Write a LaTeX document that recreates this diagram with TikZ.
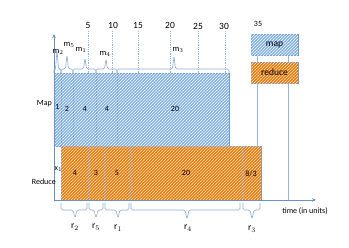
\documentclass[tikz,border=0pt]{standalone}
\usepackage{fontspec}
\setmainfont{Carlito}
\usetikzlibrary{patterns,arrows.meta}
\definecolor{mapfill}{RGB}{128,176,232}
\definecolor{mapline}{RGB}{112,152,200}
\definecolor{redfill}{RGB}{236,120,0}
\definecolor{redline}{RGB}{130,150,175}
\definecolor{axisc}{RGB}{105,145,198}
\definecolor{tickc}{RGB}{150,182,222}
\definecolor{brc}{RGB}{140,172,212}
\pgfdeclarepatternformonly{thickne}{\pgfqpoint{-1pt}{-1pt}}{\pgfqpoint{4pt}{4pt}}{\pgfqpoint{3pt}{3pt}}{%
  \pgfsetlinewidth{0.7pt}%
  \pgfpathmoveto{\pgfqpoint{-0.5pt}{-0.5pt}}\pgfpathlineto{\pgfqpoint{3.5pt}{3.5pt}}\pgfusepath{stroke}}
\tikzset{
  mapblk/.style={fill=mapfill, draw=mapline, line width=0.7pt, postaction={pattern=thickne, pattern color=white!90!mapfill}},
  redblk/.style={fill=redfill, draw=redline, line width=0.7pt, postaction={pattern=thickne, pattern color=white!75!redfill}},
  brace/.style={draw=brc, line width=0.6pt, rounded corners=1.5pt},
  tickline/.style={draw=tickc, densely dotted, line width=0.8pt},
  guide/.style={draw=tickc, line width=0.6pt},
  num/.style={font=\fontsize{8}{9}\selectfont, inner sep=0pt},
  tlab/.style={font=\fontsize{9.5}{10}\selectfont, inner sep=0pt},
  mlab/.style={font=\fontsize{8.5}{9}\selectfont, inner sep=0pt},
  leg/.style={font=\fontsize{9.5}{10}\selectfont, inner sep=0pt},
}
\newcommand\topbr[4]{\path[brace] (#1,73) -- (#1,69) -- ({#3-1.5},69) -- (#3,#4) -- ({#3+1.5},69) -- (#2,69) -- (#2,73);}
\newcommand\botbr[4]{\path[brace] (#1,203) -- (#1,210) -- ({#3-2},210) -- (#3,#4) -- ({#3+2},210) -- (#2,210) -- (#2,203);}
\begin{document}
\begin{tikzpicture}[x=1pt,y=-1pt]
\useasboundingbox (0,0) rectangle (349,247);
% tick guide lines
\foreach \x in {88,112,138,170,198,225} \path[tickline] (\x,31) -- (\x,73);
% long guides
\path[guide] (257,55) -- (257,146);
\path[guide] (288,55) -- (288,200);
% map blocks
\path[mapblk] (54,73) rectangle (61,146);
\path[mapblk] (61,73) rectangle (73,146);
\path[mapblk] (73,73) rectangle (96,146);
\path[mapblk] (96,73) rectangle (117,146);
\path[mapblk] (117,73) rectangle (229,146);
% reduce blocks
\path[redblk] (61,146) rectangle (88,200);
\path[redblk] (88,146) rectangle (104,200);
\path[redblk] (104,146) rectangle (130,200);
\path[redblk] (130,146) rectangle (242,200);
\path[redblk] (242,146) rectangle (261,200);
% axes
\coordinate (o) at (54,200);
\coordinate (ytop) at (54,34);
\coordinate (xend) at (316,200);
\draw[axisc, line width=0.8pt, -{Stealth[length=4pt,width=3.5pt]}] (o) -- (ytop);
\draw[axisc, line width=0.8pt, -{Stealth[length=4pt,width=3.5pt]}] (o) -- (xend);
% block texts
\node[num] (t1) at (57.5,107) {1};
\node[num] (t2) at (67,109) {2};
\node[num] (t3) at (85,109) {4};
\node[num] (t4) at (107,109) {4};
\node[num] (t5) at (175,109) {20};
\node[num] (u1) at (75,173) {4};
\node[num] (u2) at (96,173) {3};
\node[num] (u3) at (117,173) {5};
\node[num] (u4) at (186,173) {20};
\node[num] (u5) at (251,174) {8/3};
\node[num] (x1) at (58.5,169) {x$_1$};
\node[num,anchor=east] (maplab) at (52,104) {Map};
\node[num,anchor=east] (redlab) at (56,182) {Reduce};
% tick labels
\node[tlab] (k5) at (88,25) {5};
\node[tlab] (k10) at (113,25) {10};
\node[tlab] (k15) at (138,25) {15};
\node[tlab] (k20) at (170,25) {20};
\node[tlab] (k25) at (198,26) {25};
\node[tlab] (k30) at (224,26) {30};
\node[num] (k35) at (258,24) {35};
% top braces
\topbr{54}{61}{57}{50}
\topbr{61}{73}{67}{55}
\topbr{73}{96}{85}{58}
\topbr{96}{117}{106}{59}
\topbr{117}{229}{174}{56}
\node[mlab] (m2) at (58,52) {m$_2$};
\node[mlab] (m5) at (69,45) {m$_5$};
\node[mlab] (m1) at (81,50) {m$_1$};
\node[mlab] (m4) at (105,54) {m$_4$};
\node[mlab] (m3) at (178,50) {m$_3$};
% bottom braces
\botbr{61}{87}{75}{218}
\botbr{89}{103}{96}{218}
\botbr{105}{129}{118}{218}
\botbr{131}{240}{187}{219}
\botbr{243}{260}{252}{219}
\node[tlab] (r2) at (75,227) {r$_2$};
\node[tlab] (r5) at (96,227) {r$_5$};
\node[tlab] (r1) at (118,228) {r$_1$};
\node[tlab] (r4) at (188,228) {r$_4$};
\node[tlab] (r3) at (252,229) {r$_3$};
\node[num] (time) at (305,211) {time (in units)};
% legend
\path[mapblk] (251,34) rectangle (298,55);
\node[leg] (lmap) at (274.5,44.5) {map};
\path[redblk] (251,62) rectangle (298,83);
\node[leg] (lred) at (274.5,72.5) {reduce};
\end{tikzpicture}
\end{document}
